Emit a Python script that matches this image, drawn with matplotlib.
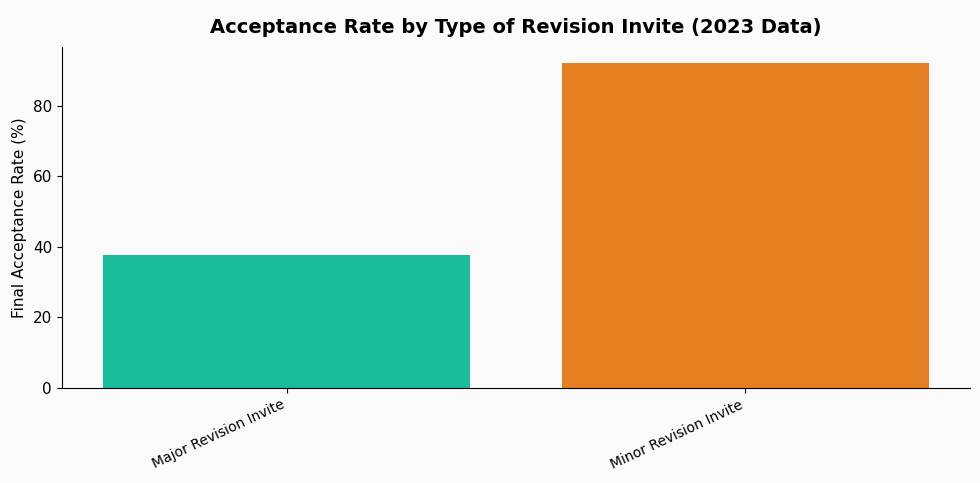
import matplotlib
matplotlib.use("Agg")
import matplotlib.pyplot as plt

categories = ["Major Revision Invite", "Minor Revision Invite"]
values = [37.8, 92.0]
colors = ["#1abc9c", "#e67e22"]

fig = plt.figure(figsize=(9.8, 4.83), dpi=100, facecolor="#fafafa")
ax = fig.add_axes([0.063, 0.197, 0.927, 0.706], facecolor="#fafafa")
ax.bar(categories, values, color=colors, width=0.8)
ax.set_ylim(0, 96.7)
ax.set_ylabel("Final Acceptance Rate (%)", fontsize=11)
ax.set_title("Acceptance Rate by Type of Revision Invite (2023 Data)", fontsize=14, fontweight="bold", pad=10)
ax.spines["top"].set_visible(False)
ax.spines["right"].set_visible(False)
ax.tick_params(axis="y", labelsize=11)
plt.setp(ax.get_xticklabels(), rotation=25, ha="right", fontsize=10)
fig.savefig("out.png", dpi=100, facecolor=fig.get_facecolor())
